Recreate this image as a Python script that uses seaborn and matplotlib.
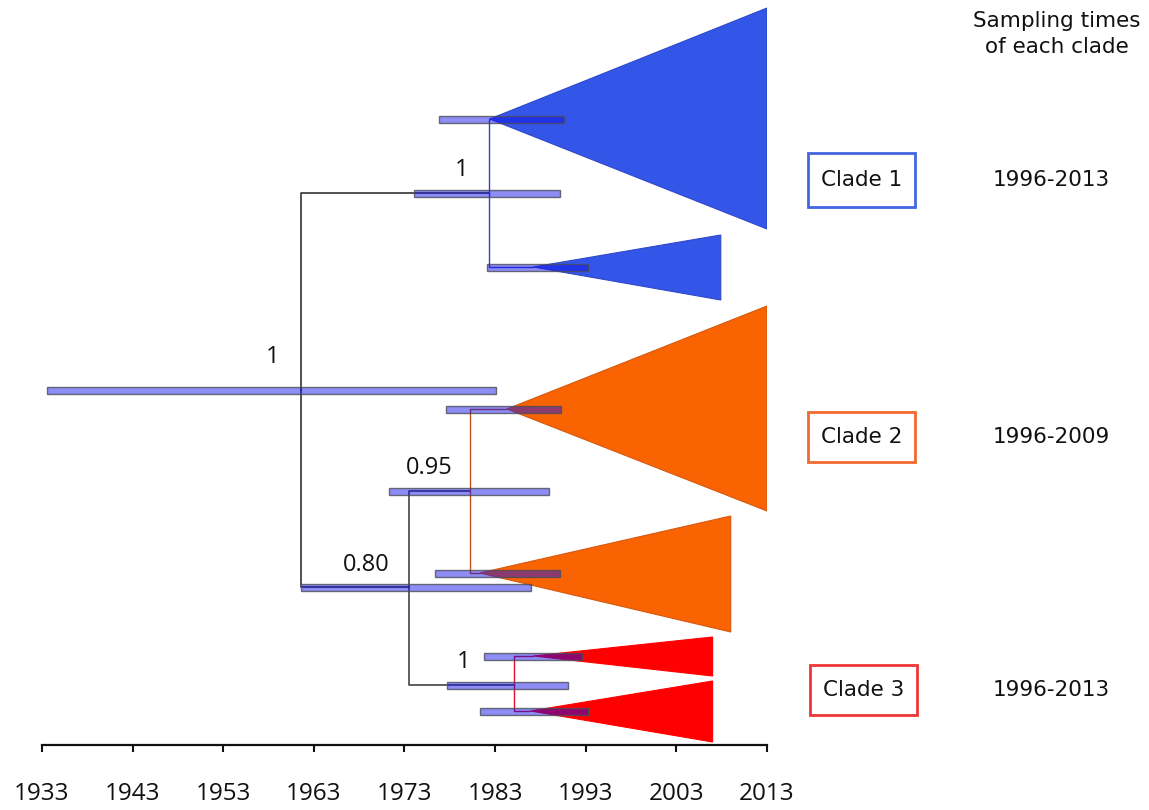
import matplotlib
matplotlib.use("Agg")
import matplotlib.pyplot as plt
from matplotlib.patches import Polygon, Rectangle
import seaborn as sns

sns.set_theme(style="white")
plt.rcParams["font.family"] = ["Open Sans", "DejaVu Sans"]

# ---------------- data ----------------
years = [1933, 1943, 1953, 1963, 1973, 1983, 1993, 2003, 2013]

# internal nodes: name, age (year), row position
node_names = ["root", "c1", "c23", "c2", "c3"]
node_year = [1961.6, 1982.3, 1973.5, 1980.2, 1985.1]
node_row = [390, 193, 587, 491, 685]
node_support = ["1", "1", "0.80", "0.95", "1"]
support_year = [1958.4, 1979.3, 1968.8, 1975.7, 1979.5]
support_row = [357, 170, 565, 468, 662]

# collapsed sub-clades (triangles): parent, apex year, tip year, row, top row, bottom row
tri_names = ["c1a", "c1b", "c2a", "c2b", "c3a", "c3b"]
tri_parent = ["c1", "c1", "c2", "c2", "c3", "c3"]
tri_apex = [1982.4, 1987.2, 1984.3, 1981.3, 1987.2, 1986.9]
tri_tip = [2013.0, 2007.9, 2013.0, 2009.0, 2007.0, 2007.0]
tri_row = [119, 267, 409, 573, 656, 711]
tri_top = [8, 235, 306, 516, 637, 681]
tri_bot = [229, 300, 511, 632, 676, 742]
tri_color = ["#3355e8", "#3355e8", "#f96302", "#f96302", "#ff0000", "#ff0000"]
tri_edge = ["#3048c8", "#3048c8", "#d45a10", "#d45a10", "#ff0000", "#ff0000"]

# 95% HPD bars
hpd_names = ["root", "c1", "c1a", "c1b", "c23", "c2", "c2a", "c2b", "c3", "c3a", "c3b"]
hpd_lo = [1933.6, 1974.1, 1976.8, 1982.1, 1961.6, 1971.3, 1977.6, 1976.4, 1977.7, 1981.8, 1981.3]
hpd_hi = [1983.1, 1990.2, 1990.6, 1993.3, 1987.0, 1988.9, 1990.3, 1990.2, 1991.0, 1992.6, 1993.3]
hpd_row = [390, 193, 119, 267, 587, 491, 409, 573, 685, 656, 711]

clade_labels = ["Clade 1", "Clade 2", "Clade 3"]
clade_ranges = ["1996-2013", "1996-2009", "1996-2013"]
clade_row = [180, 437, 690]
clade_edge = ["#4466e0", "#f26a30", "#ee3535"]

# ---------------- figure ----------------
W, H = 1149, 810
fig = plt.figure(figsize=(W / 100, H / 100), dpi=100)
ax = fig.add_axes([42 / W, (H - 745) / H, 725 / W, 745 / H])
ax.set_xlim(1933, 2013)
ax.set_ylim(745, 0)

nodes = {n: (x, y) for n, x, y in zip(node_names, node_year, node_row)}
line_col = {"root": "#222222", "c23": "#333333", "c1": "#3344cc", "c2": "#c8501a", "c3": "#dd1030"}

# backbone branches: parent -> child
edges = [("root", "c1"), ("root", "c23"), ("c23", "c2"), ("c23", "c3")]
for p, c in edges:
    px, py = nodes[p]
    cx, cy = nodes[c]
    ax.plot([px, px, cx], [py, cy, cy], color=line_col[p], lw=1.1, zorder=2)

# triangles and their stems
for n, par, ax0, tip, r, t, b, col, ec in zip(tri_names, tri_parent, tri_apex, tri_tip,
                                               tri_row, tri_top, tri_bot, tri_color, tri_edge):
    px, py = nodes[par]
    ax.plot([px, px, ax0], [py, r, r], color=line_col[par], lw=1.0, zorder=2)
    poly = Polygon([[ax0, r], [tip, t], [tip, b]], closed=True, facecolor=col,
                   edgecolor=ec, lw=0.8, zorder=1)
    ax.add_patch(poly)

# HPD bars
ax.barh(hpd_row, [h - l for l, h in zip(hpd_lo, hpd_hi)], left=hpd_lo, height=7,
        color=(0.05, 0.05, 0.92, 0.47), edgecolor=(0.3, 0.3, 0.35, 0.8),
        linewidth=1.0, zorder=3)

# posterior support
for s, x, y in zip(node_support, support_year, support_row):
    ax.text(x, y, s, fontsize=17, ha="center", va="center", color="#111111", zorder=4)

# axis styling
sns.despine(ax=ax, left=True, top=True, right=True)
ax.spines["bottom"].set_color("#111111")
ax.spines["bottom"].set_linewidth(1.6)
ax.set_yticks([])
ax.set_xticks(years)
ax.set_xticklabels([str(y) for y in years], fontsize=17.5, color="#111111")
ax.tick_params(axis="x", bottom=True, direction="out", length=5, width=1.5,
               color="#111111", pad=22)
ax.grid(False)

# right-hand annotations
side_font = ["DejaVu Sans"]
fig.text(1057 / W, 1 - 34 / H, "Sampling times\nof each clade", ha="center", va="center",
         fontsize=15.5, linespacing=1.32, color="#111111", family=side_font)
box_left = [808, 808, 810]
box_h = [54, 50, 50]
for lab, rng, r, ec, bl, bh in zip(clade_labels, clade_ranges, clade_row, clade_edge,
                                   box_left, box_h):
    fig.patches.append(Rectangle((bl / W, 1 - (r + bh / 2) / H), 107 / W, bh / H,
                                 transform=fig.transFigure, facecolor="white",
                                 edgecolor=ec, lw=2))
    fig.text((bl + 53.5) / W, 1 - r / H, lab, ha="center", va="center", fontsize=15.5,
             color="#111111", family=side_font)
    fig.text(1051 / W, 1 - r / H, rng, ha="center", va="center", fontsize=15.5,
             color="#111111", family=side_font)

fig.savefig("out.png", dpi=100)
